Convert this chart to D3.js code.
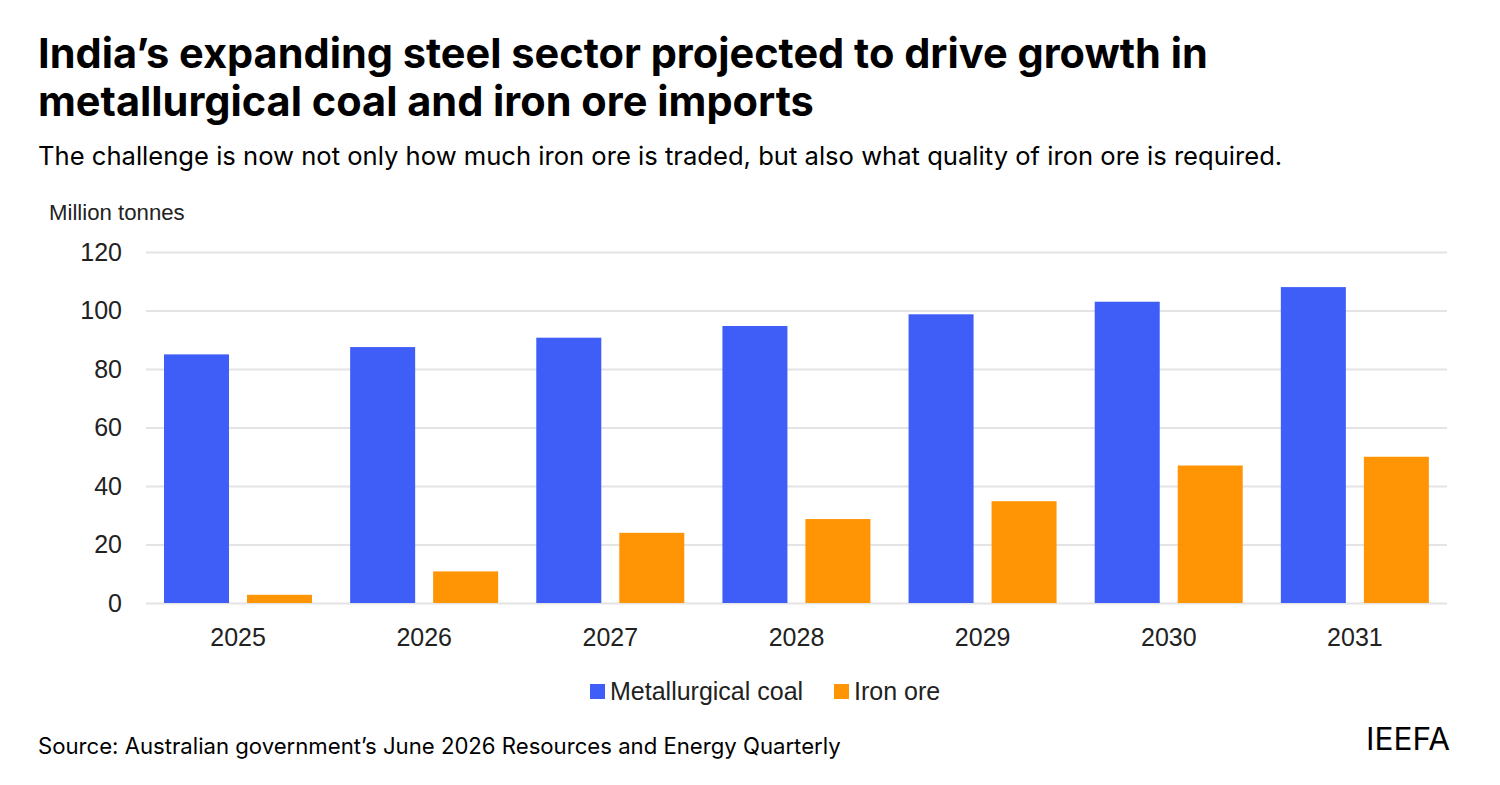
<!DOCTYPE html>
<html>
<head>
<meta charset="utf-8">
<script src="https://cdn.jsdelivr.net/npm/d3@7"></script>
<style>
html, body { margin: 0; padding: 0; background: #fff; }
svg { display: block; }
.heading { font-family: Inter, sans-serif; fill: #000; }
.chart-text { font-family: "Liberation Sans", Arial, sans-serif; fill: #222; }
</style>
</head>
<body>
<div id="chart"></div>
<script>
var years = ["2025", "2026", "2027", "2028", "2029", "2030", "2031"];
var coal = [85, 87.5, 90.7, 94.7, 98.7, 103, 108];
var ironOre = [2.8, 10.8, 24, 28.7, 34.8, 47, 50];
var seriesNames = ["Metallurgical coal", "Iron ore"];
var seriesColors = ["#3f5ef8", "#ff9505"];
var yTicks = [0, 20, 40, 60, 80, 100, 120];
var titleLines = ["India\u2019s expanding steel sector projected to drive growth in", "metallurgical coal and iron ore imports"];
var subtitle = "The challenge is now not only how much iron ore is traded, but also what quality of iron ore is required.";
var source = "Source: Australian government\u2019s June 2026 Resources and Energy Quarterly";

var width = 1500, height = 785;

var svg = d3.select("#chart").append("svg")
    .attr("width", width)
    .attr("height", height);

// headings
svg.selectAll(".title")
    .data(titleLines)
    .enter().append("text")
    .attr("class", "heading title")
    .attr("x", 38)
    .attr("y", function(d, i) { return 68 + i * 47.5; })
    .attr("font-size", 41.5)
    .attr("font-weight", 700)
    .text(function(d) { return d; });

svg.append("text")
    .attr("class", "heading")
    .attr("x", 38)
    .attr("y", 165)
    .attr("font-size", 25.6)
    .text(subtitle);

svg.append("text")
    .attr("class", "chart-text")
    .attr("x", 49)
    .attr("y", 220)
    .attr("font-size", 22.2)
    .text("Million tonnes");

// scales
var x = d3.scaleBand()
    .domain(years)
    .range([146, 1449])
    .paddingInner(0)
    .paddingOuter(0);

var y = d3.scaleLinear()
    .domain([0, 120])
    .range([603, 252]);

var barWidth = 65;
var barOffset = [18, 101];

// gridlines and y labels
var yAxis = svg.append("g")
    .attr("transform", "translate(146,0)")
    .call(d3.axisLeft(y).tickValues(yTicks).tickSize(-1301).tickPadding(24));
yAxis.select(".domain").remove();
yAxis.selectAll("line").attr("stroke", "#e4e4e4").attr("stroke-width", 2);
yAxis.selectAll("text")
    .attr("class", "chart-text")
    .attr("font-size", 25)
    .attr("fill", "#222");

// year labels
var xAxis = svg.append("g")
    .attr("transform", "translate(-1,603)")
    .call(d3.axisBottom(x).tickSize(0).tickPadding(25));
xAxis.select(".domain").remove();
xAxis.selectAll("text")
    .attr("class", "chart-text")
    .attr("font-size", 25)
    .attr("fill", "#222");

// bars
[coal, ironOre].forEach(function(values, s) {
    svg.append("g")
        .selectAll("rect")
        .data(values)
        .enter().append("rect")
        .attr("x", function(d, i) { return x(years[i]) + barOffset[s]; })
        .attr("y", function(d) { return y(d); })
        .attr("width", barWidth)
        .attr("height", function(d) { return y(0) - y(d); })
        .attr("fill", seriesColors[s]);
});

// legend
var legendX = [590, 834];
var legend = svg.selectAll(".legend")
    .data(seriesNames)
    .enter().append("g")
    .attr("class", "legend")
    .attr("transform", function(d, i) { return "translate(" + legendX[i] + ",684)"; });
legend.append("rect")
    .attr("width", 15)
    .attr("height", 15)
    .attr("fill", function(d, i) { return seriesColors[i]; });
legend.append("text")
    .attr("class", "chart-text")
    .attr("x", 20)
    .attr("y", 16)
    .attr("font-size", 25)
    .text(function(d) { return d; });

// footer
svg.append("text")
    .attr("class", "heading")
    .attr("x", 38)
    .attr("y", 754)
    .attr("font-size", 22.15)
    .text(source);

svg.append("text")
    .attr("class", "heading")
    .attr("x", 1450)
    .attr("y", 750)
    .attr("text-anchor", "end")
    .attr("font-size", 31.6)
    .attr("font-weight", 400)
    .text("IEEFA");
</script>
</body>
</html>
